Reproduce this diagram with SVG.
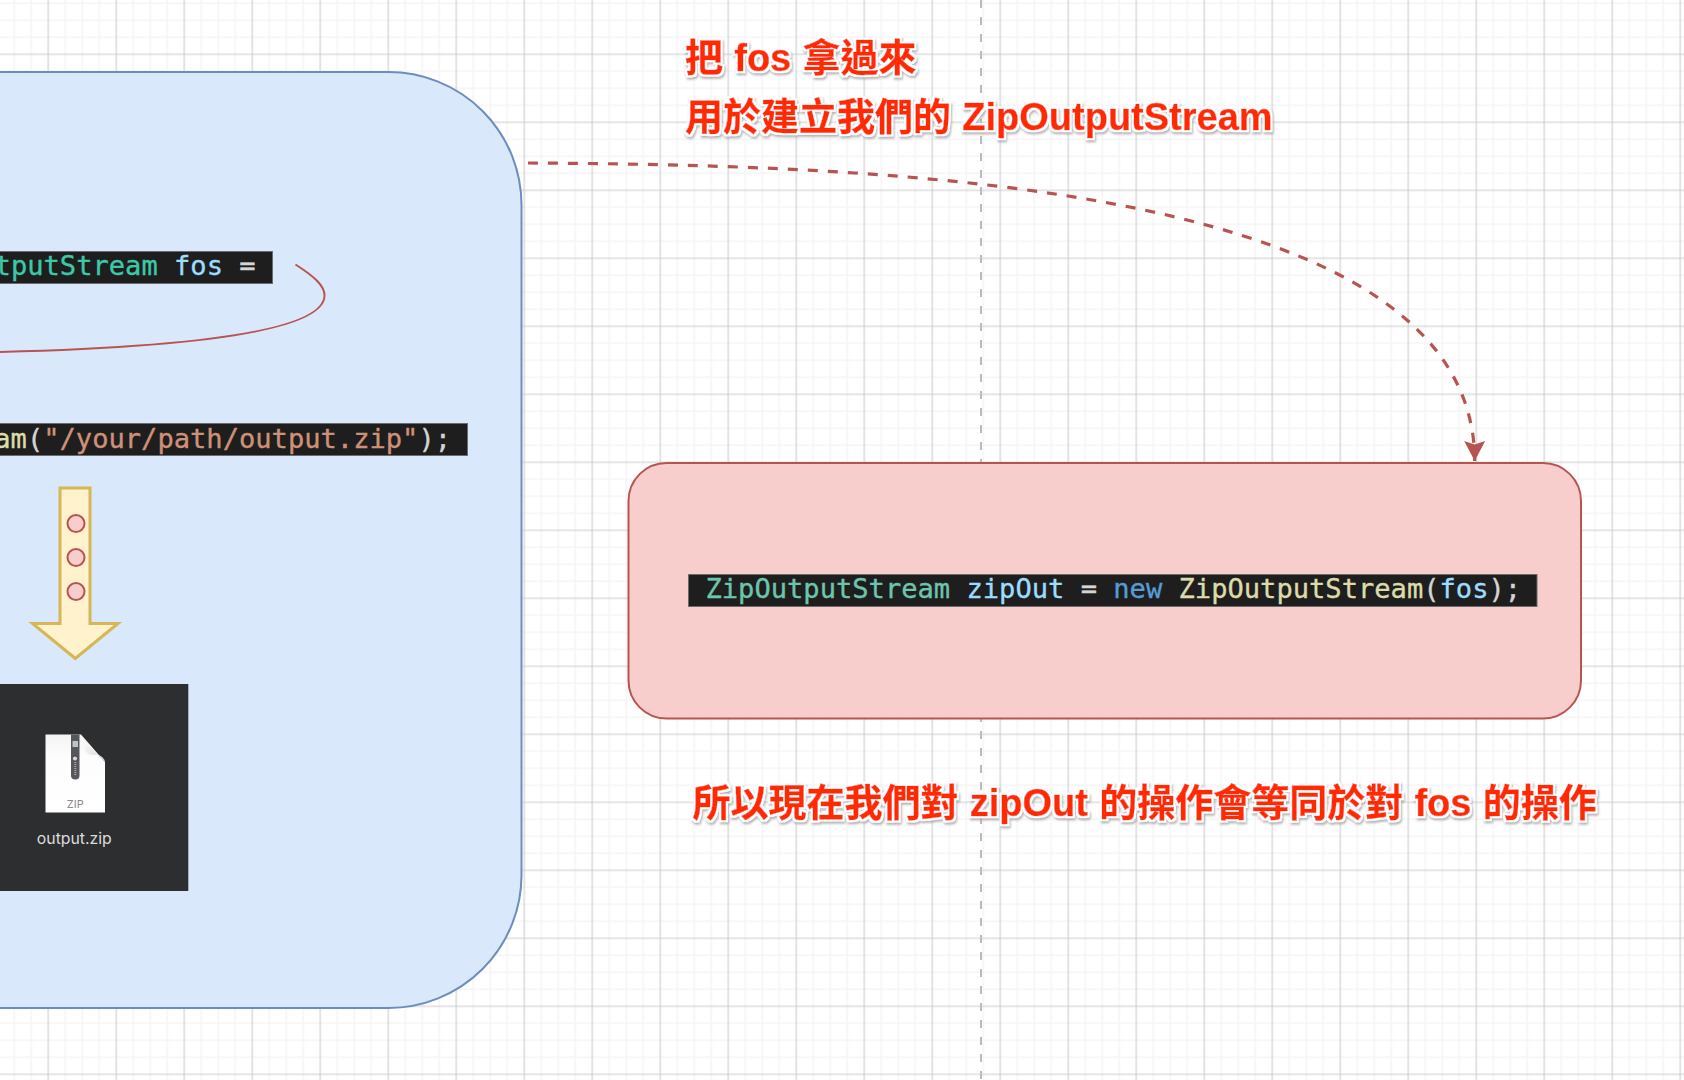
<svg xmlns="http://www.w3.org/2000/svg" width="1684" height="1080" viewBox="0 0 1684 1080">
  <defs>
    <pattern id="grid" patternUnits="userSpaceOnUse" x="40.3" y="46.3" width="68" height="68">
      <path d="M25 0V68M42 0V68M59 0V68M0 25H68M0 42H68M0 59H68" fill="none" stroke="#f5f5f5" stroke-width="1.6"/>
      <path d="M8 0V68M0 8H68" fill="none" stroke="#cbcbcb" stroke-width="1.1"/>
    </pattern>
    <marker id="arrow" markerUnits="userSpaceOnUse" markerWidth="24" markerHeight="24" viewBox="0 0 24 24" refX="21" refY="12" orient="auto">
      <path d="M21 12L1 1.5L4.500 12L1 22.5Z" fill="#b85450"/>
    </marker>
    <filter id="halo" x="-5%" y="-30%" width="110%" height="170%">
      <feMorphology in="SourceAlpha" operator="dilate" radius="2.2" result="grown"/>
      <feOffset in="grown" dx="1" dy="2" result="moved"/>
      <feGaussianBlur in="moved" stdDeviation="1" result="soft"/>
      <feFlood flood-color="#9a9a9a" flood-opacity="0.75"/>
      <feComposite in2="soft" operator="in" result="shade"/>
      <feFlood flood-color="#ffffff"/>
      <feComposite in2="grown" operator="in" result="white"/>
      <feMerge>
        <feMergeNode in="shade"/>
        <feMergeNode in="white"/>
        <feMergeNode in="SourceGraphic"/>
      </feMerge>
    </filter>
    <linearGradient id="fold" x1="0" y1="0" x2="1" y2="1">
      <stop offset="0" stop-color="#ffffff"/>
      <stop offset="1" stop-color="#d4d4d4"/>
    </linearGradient>
    <linearGradient id="sheet" x1="0" y1="0" x2="0" y2="1">
      <stop offset="0" stop-color="#f4f4f4"/>
      <stop offset="0.3" stop-color="#fdfdfd"/>
      <stop offset="1" stop-color="#ffffff"/>
    </linearGradient>
  </defs>
  <style>
    .code { font-family: "DejaVu Sans Mono", "Liberation Mono", monospace; font-size: 27.1px; white-space: pre; stroke-width: 0.35px; }
    .bar { fill: #1e1e1e; stroke: #6b6b6b; stroke-width: 1; }
    .type { fill: #3cc9a8; stroke: #3cc9a8; }
    .type2 { fill: #6cc5ad; stroke: #6cc5ad; }
    .var { fill: #9cdcfe; stroke: #9cdcfe; }
    .key { fill: #569cd6; stroke: #569cd6; }
    .fn { fill: #dcdcaa; stroke: #dcdcaa; }
    .str { fill: #ce9178; stroke: #ce9178; }
    .pun { fill: #d4d4d4; stroke: #d4d4d4; }
    .note { font-family: "Liberation Sans", "Noto Sans CJK TC", sans-serif; font-weight: 700; font-size: 38px; word-spacing: 0.7px; fill: #ff2a00; stroke: #ff2a00; stroke-width: 0.5px; filter: url(#halo); white-space: pre; }
    .dot { fill: #f8cecc; stroke: #b85450; stroke-width: 2; }
  </style>

  <!-- canvas grid and centre guide -->
  <rect width="1684" height="1080" fill="#ffffff"/>
  <rect width="1684" height="1080" fill="url(#grid)"/>
  <path d="M981 0V1080" fill="none" stroke="#bbbbbb" stroke-width="2" stroke-dasharray="8 9"/>

  <g id="writer-panel">
    <rect x="-300" y="72" width="821.5" height="936" rx="133" ry="133" fill="#dae8fc" stroke="#6c8ebf" stroke-width="2"/>
  </g>

  <g id="fos-declaration">
    <rect class="bar" x="-10" y="251.500" width="282.500" height="32"/>
    <text class="code" x="-5.400" y="274.500"><tspan class="type">tputStream</tspan> <tspan class="var">fos</tspan> <tspan class="pun">=</tspan></text>
  </g>

  <g id="fos-constructor">
    <rect class="bar" x="-10" y="423.500" width="477.500" height="32"/>
    <text class="code" x="-5.700" y="447.500"><tspan class="fn">am</tspan><tspan class="pun">(</tspan><tspan class="str">"/your/path/output.zip"</tspan><tspan class="pun">);</tspan></text>
  </g>

  <g id="write-arrow">
    <path d="M60 488H90V623.500H118L75.300 658.500L32.500 623.500H60Z" fill="#fff2cc" stroke="#d6b656" stroke-width="3"/>
    <circle class="dot" cx="76" cy="523.500" r="8.500"/>
    <circle class="dot" cx="76" cy="557.500" r="8.500"/>
    <circle class="dot" cx="76" cy="591.500" r="8.500"/>
  </g>

  <g id="output-file">
    <rect x="-10" y="684" width="198.300" height="207" fill="#2d2e30"/>
    <path d="M45.500 734.500H81L105 762V812.500H45.500Z" fill="url(#sheet)"/>
    <path d="M81 738L105 762C105 759 100 754 95 755C86 756 83 748 81 738Z" fill="url(#fold)"/>
    <path d="M71 734.500H79.500V775.500Q79.500 779.500 75.300 779.500Q71 779.500 71 775.500Z" fill="#55575a"/>
    <path d="M72.500 741H78V747H72.500Z" fill="#b9c3c8"/>
    <circle cx="75" cy="758.500" r="2.600" fill="#d5d5d5" stroke="#333333" stroke-width="0.800"/>
    <path d="M75.300 762V776" fill="none" stroke="#aaaaaa" stroke-width="2" stroke-dasharray="1 1"/>
    <text x="75.300" y="808" text-anchor="middle" font-family="Inter, 'Liberation Sans', sans-serif" font-size="11" fill="#8a8a8a">ZIP</text>
    <text x="74.300" y="843.500" text-anchor="middle" font-family="Inter, 'Liberation Sans', sans-serif" font-size="15.800" fill="#dcdcdc">output.zip</text>
  </g>

  <g id="zip-stream-box">
    <rect x="628.500" y="463" width="952.500" height="255.500" rx="38" ry="38" fill="#f8cecc" stroke="#b85450" stroke-width="2"/>
    <rect class="bar" x="688.500" y="574.500" width="848.500" height="32"/>
    <text class="code" x="705.500" y="597.500"><tspan class="type2">ZipOutputStream</tspan> <tspan class="var">zipOut</tspan> <tspan class="pun">=</tspan> <tspan class="key">new</tspan> <tspan class="fn">ZipOutputStream</tspan><tspan class="pun">(</tspan><tspan class="var">fos</tspan><tspan class="pun">);</tspan></text>
  </g>

  <g id="connectors">
    <path d="M295.500 264.500C315 277 325 286 324.500 296C323 330 200 347 0 352" fill="none" stroke="#b85450" stroke-width="2"/>
    <path d="M528 163C900 165 1474 185 1474.700 461" fill="none" stroke="#b85450" stroke-width="3.200" stroke-dasharray="10 10" marker-end="url(#arrow)"/>
  </g>

  <g id="note-take-fos">
    <text class="note" x="685" y="70.500">把 fos 拿過來</text>
    <text class="note" x="685" y="129.500">用於建立我們的 ZipOutputStream</text>
  </g>

  <g id="note-same-target">
    <text class="note" x="692.500" y="816">所以現在我們對 zipOut 的操作會等同於對 fos 的操作</text>
  </g>
</svg>
